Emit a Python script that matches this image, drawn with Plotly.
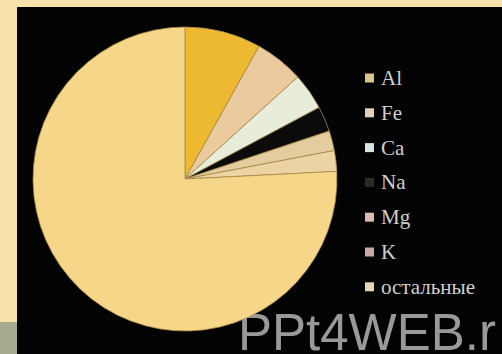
import plotly.graph_objects as go

# ---- data ----
categories = ["Al", "Fe", "Ca", "Na", "Mg", "K", "остальные"]
values = [8.1, 5.2, 3.9, 2.7, 2.1, 2.2, 75.8]
watermark = "PPt4WEB.r"

# ---- styles ----
slice_colors = ["#EDB931", "#EBCB9E", "#E8ECDA", "#0B0B0B", "#E4CC9C", "#EBD3A4", "#F6D688"]
legend_colors = ["#D9C68E", "#E2D1B9", "#D9E3DF", "#2A2A2A", "#D9B9B0", "#C9A8AA", "#E6D6B4"]

W, H = 502, 354


def px_path(points):
    """Closed path in paper coordinates from pixel points (x from left, y from top)."""
    pts = [f"{x / W:.5f},{1 - y / H:.5f}" for x, y in points]
    return "M" + " L".join(pts) + " Z"


fig = go.Figure()
fig.add_trace(go.Pie(
    labels=categories,
    values=values,
    sort=False,
    direction="clockwise",
    rotation=0,
    textinfo="none",
    hoverinfo="label+percent",
    marker=dict(colors=slice_colors, line=dict(color="#A88A48", width=0.8)),
    domain=dict(x=[33 / W, 337 / W], y=[23 / H, 327 / H]),
    showlegend=False,
))

# watermark drawn as clipped text on a hidden pixel-scaled axis
fig.add_trace(go.Scatter(
    x=[238], y=[337], mode="text", text=[watermark],
    textposition="middle right", cliponaxis=True,
    textfont=dict(family="Liberation Sans", size=51, color="#999999"),
    hoverinfo="skip", showlegend=False,
))

shapes = [
    dict(type="path", xref="paper", yref="paper",
         path=px_path([(0, 0), (502, 0), (502, 7), (17, 7), (17, 322), (0, 322)]),
         fillcolor="#F7E2AA", line=dict(width=0), layer="below"),
    dict(type="path", xref="paper", yref="paper",
         path=px_path([(0, 322), (17, 322), (17, 354), (0, 354)]),
         fillcolor="#A7AA8C", line=dict(width=0), layer="below"),
]
annotations = []

# custom legend
y_first, step = 78, 34.8
for i, (name, col) in enumerate(zip(categories, legend_colors)):
    yc = y_first + i * step
    shapes.append(dict(type="rect", xref="paper", yref="paper",
                       x0=365 / W, x1=374 / W,
                       y0=1 - (yc + 4.5) / H, y1=1 - (yc - 4.5) / H,
                       fillcolor=col, line=dict(width=0)))
    annotations.append(dict(x=379 / W, y=1 - yc / H, xref="paper", yref="paper",
                            text=name, showarrow=False, xanchor="left", yanchor="middle",
                            font=dict(family="Liberation Serif", size=21, color="#CFCFCB")))

fig.update_layout(
    width=W, height=H,
    margin=dict(l=0, r=0, t=0, b=0),
    paper_bgcolor="#030303",
    plot_bgcolor="rgba(0,0,0,0)",
    xaxis=dict(range=[0, W], visible=False, domain=[0, 1], fixedrange=True),
    yaxis=dict(range=[H, 0], visible=False, domain=[0, 1], fixedrange=True),
    shapes=shapes,
    annotations=annotations,
)

fig.write_html("out.html")
